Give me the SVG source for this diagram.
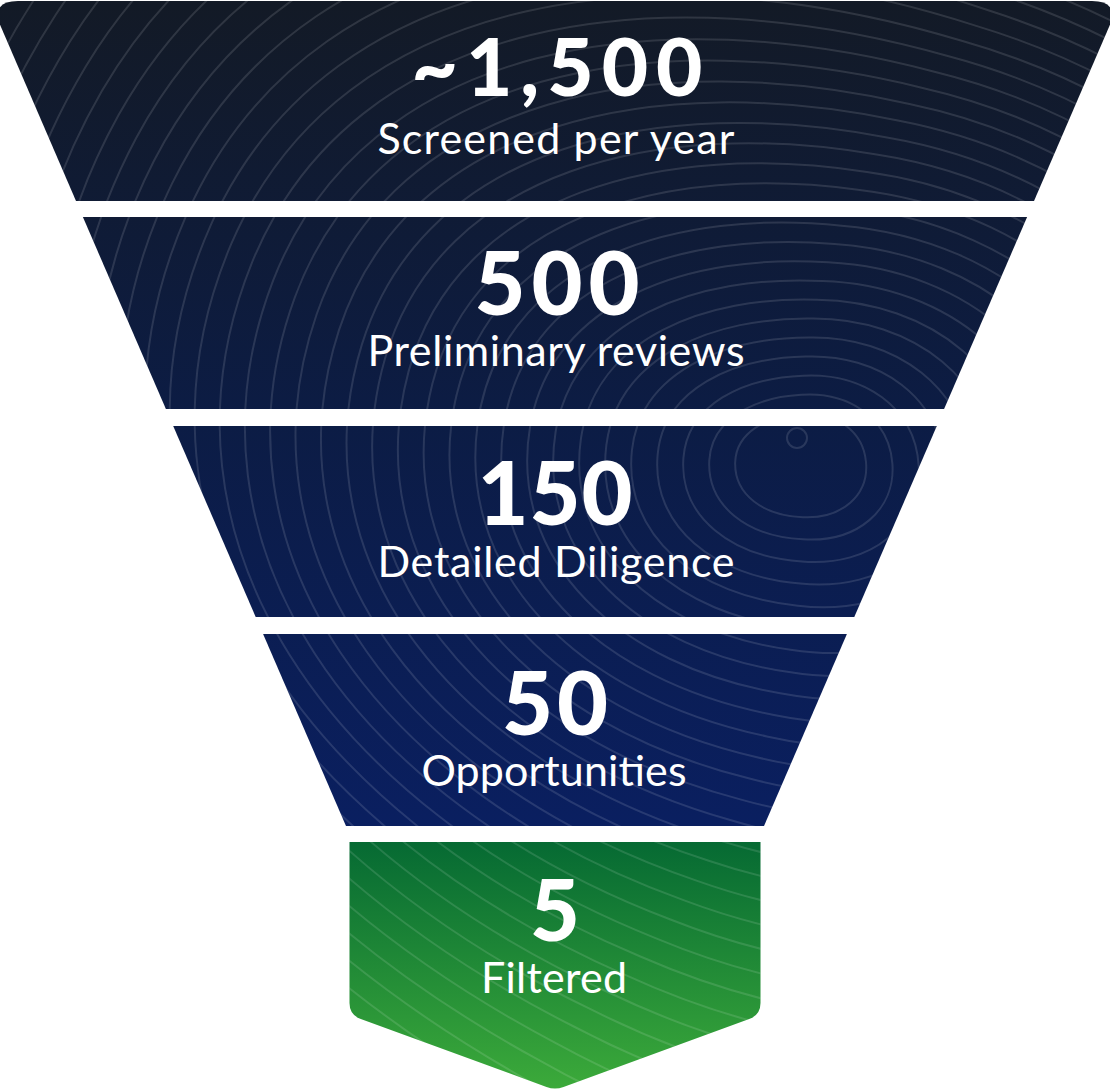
<svg xmlns="http://www.w3.org/2000/svg" xmlns:xlink="http://www.w3.org/1999/xlink" width="1110" height="1091" viewBox="0 0 1110 1091">
<style>
.num{font-family:Lato,"Open Sans","Liberation Sans",sans-serif;font-weight:900;fill:#ffffff;text-anchor:middle;}
.lbl{font-family:Lato,"Open Sans","Liberation Sans",sans-serif;font-weight:400;fill:#ffffff;text-anchor:middle;font-size:43px;}
.ring{fill:none;stroke:#ffffff;stroke-opacity:0.12;stroke-width:2;vector-effect:non-scaling-stroke;}
</style>
<defs>
<linearGradient id="dark" gradientUnits="userSpaceOnUse" x1="0" y1="0" x2="0" y2="826">
<stop offset="0" stop-color="#131a26"/>
<stop offset="0.5" stop-color="#0c1c44"/>
<stop offset="1" stop-color="#0a1f60"/>
</linearGradient>
<linearGradient id="green" gradientUnits="userSpaceOnUse" x1="0" y1="842" x2="0" y2="1090">
<stop offset="0" stop-color="#066a33"/>
<stop offset="1" stop-color="#3caa3a"/>
</linearGradient>
<path id="s1" d="M18,1 L1092,1 Q1120,1 1109,27 L1034,201 L76,201 L1,27 Q-10,1 18,1 Z"/>
<path id="s2" d="M82.9,217 L1027.1,217 L944.1,409 L165.9,409 Z"/>
<path id="s3" d="M173.2,426 L936.8,426 L854.3,617 L255.7,617 Z"/>
<path id="s4" d="M263.1,634 L846.9,634 L764,826 L346,826 Z"/>
<path id="s5" d="M349.5,842 L760.5,842 L760.5,1003 Q760.5,1015 749.2,1019.1 L563.5,1086.9 Q555,1090 546.5,1086.9 L360.8,1019.1 Q349.5,1015 349.5,1003 Z"/>
<clipPath id="c1"><use xlink:href="#s1"/></clipPath>
<clipPath id="c2"><use xlink:href="#s2"/></clipPath>
<clipPath id="c3"><use xlink:href="#s3"/></clipPath>
<clipPath id="c4"><use xlink:href="#s4"/></clipPath>
<clipPath id="c5"><use xlink:href="#s5"/></clipPath>
<path id="blob" class="ring" d="M0,-80 C55,-85 105,-55 110,0 C115,55 70,95 5,92 C-60,90 -110,55 -108,0 C-106,-50 -55,-76 0,-80 Z"/>
<g id="rings">
<circle cx="797" cy="438" r="10" class="ring"/>
<use xlink:href="#blob" transform="translate(800,462) rotate(0) scale(0.6)"/>
<use xlink:href="#blob" transform="translate(800,462) rotate(1) scale(0.84)"/>
<use xlink:href="#blob" transform="translate(800,462) rotate(2) scale(1.08)"/>
<use xlink:href="#blob" transform="translate(800,462) rotate(3) scale(1.32)"/>
<use xlink:href="#blob" transform="translate(800,462) rotate(4) scale(1.56)"/>
<use xlink:href="#blob" transform="translate(800,462) rotate(5) scale(1.80)"/>
<use xlink:href="#blob" transform="translate(800,462) rotate(6) scale(2.04)"/>
<use xlink:href="#blob" transform="translate(800,462) rotate(7) scale(2.28)"/>
<use xlink:href="#blob" transform="translate(800,462) rotate(8) scale(2.52)"/>
<use xlink:href="#blob" transform="translate(800,462) rotate(9) scale(2.76)"/>
<use xlink:href="#blob" transform="translate(800,462) rotate(10) scale(3.00)"/>
<use xlink:href="#blob" transform="translate(800,462) rotate(11) scale(3.24)"/>
<use xlink:href="#blob" transform="translate(800,462) rotate(12) scale(3.48)"/>
<use xlink:href="#blob" transform="translate(800,462) rotate(13) scale(3.72)"/>
<use xlink:href="#blob" transform="translate(800,462) rotate(14) scale(3.96)"/>
<use xlink:href="#blob" transform="translate(800,462) rotate(15) scale(4.20)"/>
<use xlink:href="#blob" transform="translate(800,462) rotate(16) scale(4.44)"/>
<use xlink:href="#blob" transform="translate(800,462) rotate(17) scale(4.68)"/>
<use xlink:href="#blob" transform="translate(800,462) rotate(18) scale(4.92)"/>
<use xlink:href="#blob" transform="translate(800,462) rotate(19) scale(5.16)"/>
<use xlink:href="#blob" transform="translate(800,462) rotate(20) scale(5.40)"/>
<use xlink:href="#blob" transform="translate(800,462) rotate(21) scale(5.64)"/>
<use xlink:href="#blob" transform="translate(800,462) rotate(22) scale(5.88)"/>
<use xlink:href="#blob" transform="translate(800,462) rotate(23) scale(6.12)"/>
<use xlink:href="#blob" transform="translate(800,462) rotate(24) scale(6.36)"/>
<use xlink:href="#blob" transform="translate(800,462) rotate(25) scale(6.60)"/>
<use xlink:href="#blob" transform="translate(800,462) rotate(26) scale(6.84)"/>
<use xlink:href="#blob" transform="translate(800,462) rotate(27) scale(7.08)"/>
<use xlink:href="#blob" transform="translate(800,462) rotate(28) scale(7.32)"/>
<use xlink:href="#blob" transform="translate(800,462) rotate(29) scale(7.56)"/>
<use xlink:href="#blob" transform="translate(800,462) rotate(30) scale(7.80)"/>
<use xlink:href="#blob" transform="translate(800,462) rotate(31) scale(8.04)"/>
<use xlink:href="#blob" transform="translate(800,462) rotate(32) scale(8.28)"/>
<use xlink:href="#blob" transform="translate(800,462) rotate(33) scale(8.52)"/>
<use xlink:href="#blob" transform="translate(800,462) rotate(34) scale(8.76)"/>
<use xlink:href="#blob" transform="translate(800,462) rotate(35) scale(9.00)"/>
<use xlink:href="#blob" transform="translate(800,462) rotate(36) scale(9.24)"/>
<use xlink:href="#blob" transform="translate(800,462) rotate(37) scale(9.48)"/>
<use xlink:href="#blob" transform="translate(800,462) rotate(38) scale(9.72)"/>
<use xlink:href="#blob" transform="translate(800,462) rotate(39) scale(9.96)"/>
</g>
</defs>
<rect width="1110" height="1091" fill="#ffffff"/>
<g id="connectors"/>
<g id="stage-screened">
<use xlink:href="#s1" fill="url(#dark)"/>
<use xlink:href="#rings" clip-path="url(#c1)"/>
<text class="num" x="557" y="96" font-size="80" textLength="291" lengthAdjust="spacing">~1,500</text>
<text class="lbl" x="556" y="154" textLength="357" lengthAdjust="spacing">Screened per year</text>
</g>
<g id="stage-preliminary">
<use xlink:href="#s2" fill="url(#dark)"/>
<use xlink:href="#rings" clip-path="url(#c2)"/>
<text class="num" x="557" y="315" font-size="88" textLength="165" lengthAdjust="spacing">500</text>
<text class="lbl" x="556" y="366" textLength="377" lengthAdjust="spacing">Preliminary reviews</text>
</g>
<g id="stage-diligence">
<use xlink:href="#s3" fill="url(#dark)"/>
<use xlink:href="#rings" clip-path="url(#c3)"/>
<text class="num" x="555" y="525" font-size="88" textLength="155" lengthAdjust="spacing">150</text>
<text class="lbl" x="556" y="577" textLength="357" lengthAdjust="spacing">Detailed Diligence</text>
</g>
<g id="stage-opportunities">
<use xlink:href="#s4" fill="url(#dark)"/>
<use xlink:href="#rings" clip-path="url(#c4)"/>
<text class="num" x="555" y="735" font-size="88" textLength="106" lengthAdjust="spacing">50</text>
<text class="lbl" x="554" y="786" textLength="265" lengthAdjust="spacing">Opportunities</text>
</g>
<g id="stage-filtered">
<use xlink:href="#s5" fill="url(#green)"/>
<use xlink:href="#rings" clip-path="url(#c5)"/>
<text class="num" x="555" y="941" font-size="86">5</text>
<text class="lbl" x="554" y="993" textLength="146" lengthAdjust="spacing">Filtered</text>
</g>
</svg>
